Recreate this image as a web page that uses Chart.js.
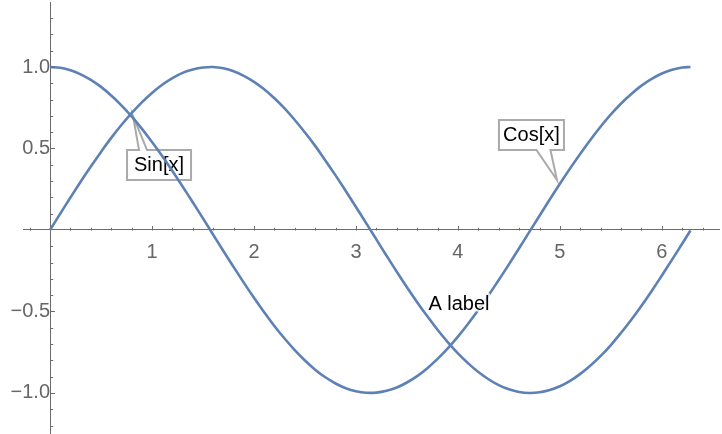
<!DOCTYPE html>
<html>
<head>
<meta charset="utf-8">
<script src="https://cdn.jsdelivr.net/npm/chart.js@4.4.1/dist/chart.umd.min.js"></script>
<style>
  body { margin: 0; background: #fff; }
  #wrap { width: 722px; height: 434px; }
</style>
</head>
<body>
<div id="wrap"><canvas id="plot" width="722" height="434"></canvas></div>
<script>
// values
const xs = [0, 0.1, 0.2, 0.3, 0.4, 0.5, 0.6, 0.7, 0.8, 0.9, 1.0, 1.1, 1.2, 1.3, 1.4, 1.5, 1.6, 1.7, 1.8, 1.9,
            2.0, 2.1, 2.2, 2.3, 2.4, 2.5, 2.6, 2.7, 2.8, 2.9, 3.0, 3.1, 3.2, 3.3, 3.4, 3.5, 3.6, 3.7, 3.8, 3.9,
            4.0, 4.1, 4.2, 4.3, 4.4, 4.5, 4.6, 4.7, 4.8, 4.9, 5.0, 5.1, 5.2, 5.3, 5.4, 5.5, 5.6, 5.7, 5.8, 5.9,
            6.0, 6.1, 6.2, 6.28];
const sinVals = [0.000, 0.100, 0.199, 0.296, 0.389, 0.479, 0.565, 0.644, 0.717, 0.783,
                 0.841, 0.891, 0.932, 0.964, 0.985, 0.997, 1.000, 0.992, 0.974, 0.946,
                 0.909, 0.863, 0.808, 0.746, 0.675, 0.598, 0.516, 0.427, 0.335, 0.239,
                 0.141, 0.042, -0.058, -0.158, -0.256, -0.351, -0.443, -0.530, -0.612, -0.688,
                 -0.757, -0.818, -0.872, -0.916, -0.952, -0.978, -0.994, -1.000, -0.996, -0.982,
                 -0.959, -0.926, -0.883, -0.832, -0.773, -0.706, -0.631, -0.551, -0.465, -0.374,
                 -0.279, -0.182, -0.083, -0.003];
const cosVals = [1.000, 0.995, 0.980, 0.955, 0.921, 0.878, 0.825, 0.765, 0.697, 0.622,
                 0.540, 0.454, 0.362, 0.267, 0.170, 0.071, -0.029, -0.129, -0.227, -0.323,
                 -0.416, -0.505, -0.589, -0.666, -0.737, -0.801, -0.857, -0.904, -0.942, -0.971,
                 -0.990, -0.999, -0.998, -0.987, -0.967, -0.936, -0.897, -0.848, -0.791, -0.726,
                 -0.654, -0.575, -0.490, -0.401, -0.307, -0.211, -0.112, -0.012, 0.087, 0.187,
                 0.284, 0.378, 0.468, 0.554, 0.635, 0.709, 0.776, 0.835, 0.886, 0.927,
                 0.960, 0.983, 0.997, 1.000];

const xTickValues = [1, 2, 3, 4, 5, 6];
const xTickLabels = ['1', '2', '3', '4', '5', '6'];
const yTickValues = [-1, -0.5, 0.5, 1];
const yTickLabels = ['\u22121.0', '\u22120.5', '0.5', '1.0'];

const blue = '#5e81b5';
const axisGray = '#6b6b6b';
const labelGray = '#666666';
const fontFamily = '"Liberation Sans", Arial, sans-serif';

// callout boxes: box centre + pointer tip in data units
const callouts = [
  { text: 'Sin[x]', center: [1.069, 0.399], tip: [0.814, 0.699], w: 64, h: 30, base: [-20, -12] },
  { text: 'Cos[x]', center: [4.721, 0.583], tip: [4.971, 0.307], w: 65, h: 30, base: [5, 19] }
];
const plainLabel = { text: 'A label', at: [4.01, -0.46] };

const pts = vals => xs.map((x, i) => ({ x: x, y: vals[i] }));

const noPad = s => { s.paddingTop = 0; s.paddingBottom = 0; s.paddingLeft = 0; s.paddingRight = 0; };

const decorations = {
  id: 'decorations',
  beforeDatasetsDraw(chart) {
    const { ctx, scales: { x, y } } = chart;
    ctx.save();
    ctx.font = '20px ' + fontFamily;
    callouts.forEach(c => {
      const cx = x.getPixelForValue(c.center[0]);
      const cy = y.getPixelForValue(c.center[1]);
      const tx = x.getPixelForValue(c.tip[0]);
      const ty = y.getPixelForValue(c.tip[1]);
      const l = cx - c.w / 2, r = cx + c.w / 2, t = cy - c.h / 2, b = cy + c.h / 2;
      ctx.beginPath();
      if (ty < t) {
        ctx.moveTo(l, t);
        ctx.lineTo(cx + c.base[0], t);
        ctx.lineTo(tx, ty);
        ctx.lineTo(cx + c.base[1], t);
        ctx.lineTo(r, t);
        ctx.lineTo(r, b);
        ctx.lineTo(l, b);
      } else {
        ctx.moveTo(l, t);
        ctx.lineTo(r, t);
        ctx.lineTo(r, b);
        ctx.lineTo(cx + c.base[1], b);
        ctx.lineTo(tx, ty);
        ctx.lineTo(cx + c.base[0], b);
        ctx.lineTo(l, b);
      }
      ctx.closePath();
      ctx.fillStyle = '#ffffff';
      ctx.fill();
      ctx.lineWidth = 2;
      ctx.strokeStyle = '#aaaaaa';
      ctx.stroke();
      ctx.fillStyle = '#000';
      ctx.textAlign = 'center';
      ctx.textBaseline = 'middle';
      ctx.fillText(c.text, cx, cy + 1);
    });
    ctx.restore();
  },
  afterDatasetsDraw(chart) {
    const { ctx, scales: { x, y } } = chart;
    ctx.save();
    // minor + major tick marks pointing into the plot
    ctx.strokeStyle = axisGray;
    ctx.lineWidth = 1;
    const y0 = Math.round(y.getPixelForValue(0)) + 0.5;
    const x0 = Math.round(x.getPixelForValue(0)) + 0.5;
    ctx.beginPath();
    for (let k = -1; k <= 32; k++) {
      if (k === 0) continue;
      const px = Math.round(x.getPixelForValue(k * 0.2)) + 0.5;
      const len = k % 5 === 0 ? 4.5 : 2.7;
      ctx.moveTo(px, y0);
      ctx.lineTo(px, y0 - len);
    }
    for (let k = -12; k <= 13; k++) {
      if (k === 0) continue;
      const py = Math.round(y.getPixelForValue(k * 0.1)) + 0.5;
      const len = k % 5 === 0 ? 4.5 : 2.7;
      ctx.moveTo(x0, py);
      ctx.lineTo(x0 + len, py);
    }
    ctx.stroke();

    // plain text label
    const lx = x.getPixelForValue(plainLabel.at[0]);
    const ly = y.getPixelForValue(plainLabel.at[1]);
    ctx.font = '20px ' + fontFamily;
    ctx.textAlign = 'center';
    ctx.textBaseline = 'middle';
    ctx.lineJoin = 'round';
    ctx.strokeStyle = 'rgba(255,255,255,0.8)';
    ctx.lineWidth = 4;
    ctx.strokeText(plainLabel.text, lx, ly);
    ctx.fillStyle = '#000';
    ctx.fillText(plainLabel.text, lx, ly);
    ctx.restore();
  }
};

Chart.defaults.font.family = fontFamily;

new Chart(document.getElementById('plot'), {
  type: 'line',
  data: {
    datasets: [
      { label: 'Sin[x]', data: pts(sinVals), borderColor: blue, borderWidth: 2.6,
        pointRadius: 0, tension: 0.4, fill: false },
      { label: 'Cos[x]', data: pts(cosVals), borderColor: blue, borderWidth: 2.6,
        pointRadius: 0, tension: 0.4, fill: false }
    ]
  },
  options: {
    responsive: false,
    animation: false,
    events: [],
    layout: { padding: { left: 23, right: 3, top: 2, bottom: 0 } },
    plugins: { legend: { display: false }, tooltip: { enabled: false } },
    scales: {
      x: {
        type: 'linear',
        position: { y: 0 },
        min: -0.265,
        max: 6.56,
        afterFit: s => { s.height = 0; noPad(s); },
        afterBuildTicks: s => { s.ticks = xTickValues.map(v => ({ value: v })); },
        grid: { display: true, drawOnChartArea: false, drawTicks: false },
        border: { display: true, color: axisGray, width: 1 },
        ticks: {
          autoSkip: false,
          maxRotation: 0,
          padding: 11,
          color: labelGray,
          font: { size: 20 },
          callback: (v, i) => xTickLabels[i]
        }
      },
      y: {
        type: 'linear',
        position: { x: 0 },
        min: -1.252,
        max: 1.399,
        afterFit: s => { s.width = 0; noPad(s); },
        afterBuildTicks: s => { s.ticks = yTickValues.map(v => ({ value: v })); },
        grid: { display: true, drawOnChartArea: false, drawTicks: false },
        border: { display: true, color: axisGray, width: 1 },
        ticks: {
          autoSkip: false,
          padding: 8,
          color: labelGray,
          font: { size: 20 },
          callback: (v, i) => yTickLabels[i]
        }
      }
    }
  },
  plugins: [decorations]
});
</script>
</body>
</html>
